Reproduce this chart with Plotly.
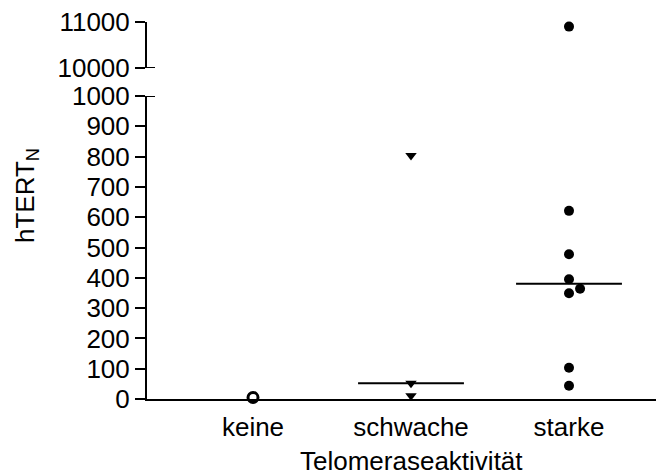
import plotly.graph_objects as go

categories = ["keine", "schwache", "starke"]
keine_vals = [5]
schwache_vals = [804, 52, 11]
starke_vals = [10900, 621, 478, 395, 364, 349, 103, 44]
starke_jitter = [0, 0, 0, 0, 0.07, 0, 0, 0]
medians = [None, 52, 380]
lower_ticks = [0, 100, 200, 300, 400, 500, 600, 700, 800, 900, 1000]
upper_ticks = [10000, 11000]
break_low, break_high = 1000, 10000

OFF = 8  # browser body margin
W, H = 664 - OFF, 475 - OFF
ML, MR, MT, MB = 147 - OFF, 0, 22 - OFF, 475 - 399
plot_w = W - ML - MR
plot_h = H - MT - MB
Y0 = 399 - OFF  # pixel of value 0 in figure coords

def py(px):  # screenshot pixel y -> paper y
    return (Y0 - (px - OFF)) / plot_h

lower_dom = [0, py(96)]
upper_dom = [py(68), 1]

FONT = "Liberation Sans, Arial, sans-serif"
FS = 26
fig = go.Figure()

def split(xs, ys):
    lo = [(x, y) for x, y in zip(xs, ys) if y <= break_low]
    hi = [(x, y) for x, y in zip(xs, ys) if y >= break_high]
    return lo, hi

groups = [
    (0, keine_vals, [0] * len(keine_vals),
     dict(symbol="circle-open", size=10, color="black", line=dict(width=3, color="black"))),
    (1, schwache_vals, [0] * len(schwache_vals),
     dict(symbol="triangle-down", size=10, color="black", line=dict(width=0))),
    (2, starke_vals, starke_jitter,
     dict(symbol="circle", size=10, color="black", line=dict(width=0))),
]
for ci, vals, jit, mk in groups:
    xs = [ci + j for j in jit]
    lo, hi = split(xs, vals)
    if lo:
        fig.add_trace(go.Scatter(x=[p[0] for p in lo], y=[p[1] for p in lo], mode="markers",
                                 marker=mk, xaxis="x", yaxis="y", cliponaxis=False, showlegend=False))
    if hi:
        fig.add_trace(go.Scatter(x=[p[0] for p in hi], y=[p[1] for p in hi], mode="markers",
                                 marker=mk, xaxis="x", yaxis="y2", cliponaxis=False, showlegend=False))

for ci, m in enumerate(medians):
    if m is None:
        continue
    fig.add_trace(go.Scatter(x=[ci - 0.335, ci + 0.335], y=[m, m], mode="lines",
                             line=dict(color="black", width=2), xaxis="x", yaxis="y",
                             showlegend=False, cliponaxis=False))

scale = 158.0
x0 = -(253 - 147) / scale
x1 = x0 + plot_w / scale

cap = 8 / plot_w
shapes = [
    dict(type="line", xref="paper", yref="y2", x0=0, x1=cap, y0=break_high, y1=break_high,
         line=dict(color="black", width=2)),
    dict(type="line", xref="paper", yref="y", x0=0, x1=cap, y0=break_low, y1=break_low,
         line=dict(color="black", width=2)),
]

yax_common = dict(showline=True, linecolor="black", linewidth=2, ticks="outside", ticklen=10,
                  tickwidth=2, tickcolor="black", showgrid=False, zeroline=False, anchor="x",
                  tickfont=dict(size=FS), ticklabelstandoff=0, automargin=False,
                  ticklabeloverflow="allow")

fig.update_layout(
    width=W, height=H,
    margin=dict(l=ML, r=MR, t=MT, b=MB),
    paper_bgcolor="white", plot_bgcolor="white",
    font=dict(family=FONT, size=FS, color="black"),
    shapes=shapes,
    xaxis=dict(range=[x0, x1], tickmode="array", tickvals=list(range(len(categories))),
               ticktext=categories, showline=True, linecolor="black", linewidth=2,
               ticks="", showgrid=False, zeroline=False, anchor="y",
               tickfont=dict(size=FS), ticklabelstandoff=4, automargin=False,
               ticklabeloverflow="allow"),
    yaxis=dict(domain=lower_dom, range=[0, 1000], tickmode="array", tickvals=lower_ticks,
               ticktext=[str(v) for v in lower_ticks], **yax_common),
    yaxis2=dict(domain=upper_dom, range=[10000, 11000], tickmode="array", tickvals=upper_ticks,
                ticktext=[str(v) for v in upper_ticks], **yax_common),
    annotations=[
        dict(text="hTERT<sub>N</sub>", xref="paper", yref="paper",
             x=(26 - 147) / plot_w, y=py(196), textangle=-90,
             showarrow=False, font=dict(size=FS), xanchor="center", yanchor="middle"),
        dict(text="Telomeraseaktivität", xref="x", yref="paper", x=1,
             y=py(461), showarrow=False, font=dict(size=FS),
             xanchor="center", yanchor="middle"),
    ],
)

fig.write_html("out.html")
